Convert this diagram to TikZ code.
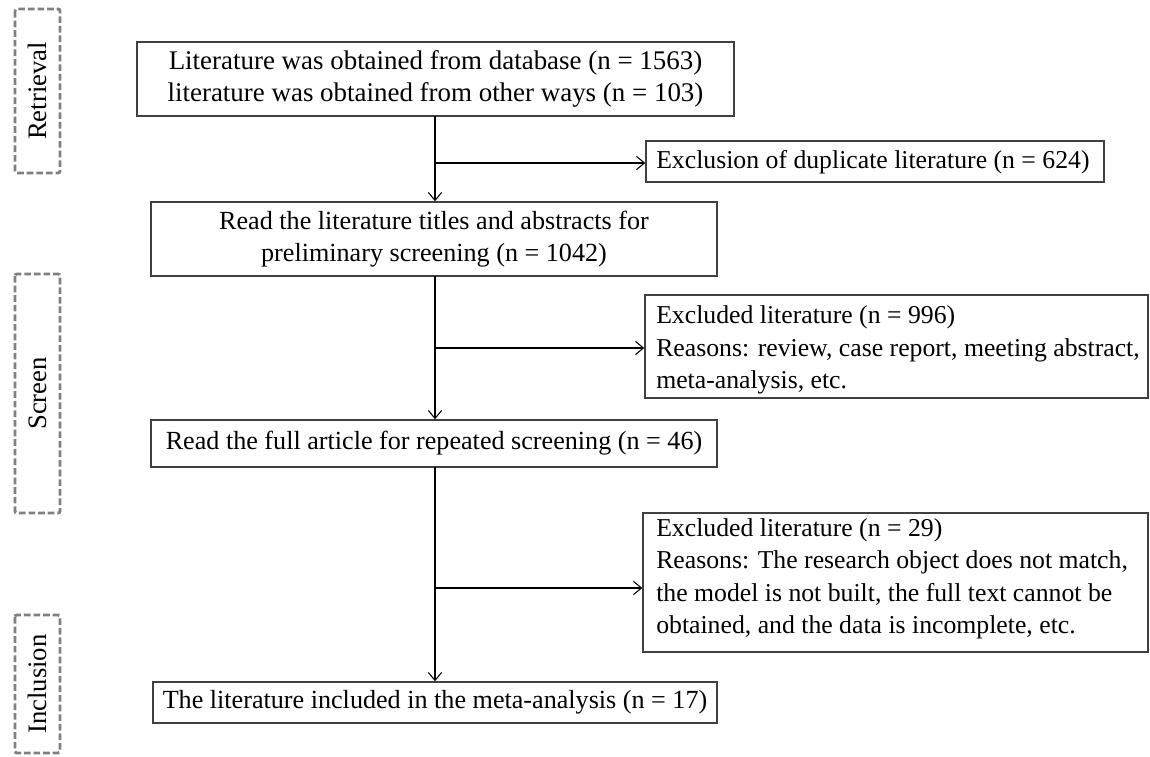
\documentclass[tikz,border=0pt]{standalone}
\usepackage{fontspec}
\setmainfont{Liberation Serif}
\usetikzlibrary{arrows.meta}
\begin{document}
\begin{tikzpicture}[x=0.75pt,y=-0.75pt,
  font=\fontsize{19.6}{24}\selectfont,
  mainbox/.style={draw=black!75,line width=1.1pt,align=center,inner sep=0pt},
  exbox/.style={draw=black!75,line width=1.1pt,inner sep=0pt},
  extext/.style={anchor=west,align=left,inner sep=0pt,font=\fontsize{19.3}{24.3}\selectfont},
  sidebox/.style={draw=black!50,line width=2.2pt,dash pattern=on 5pt off 2.2pt,rounded corners=1.5pt,rotate=90,inner sep=0pt,font=\fontsize{20}{24}\selectfont},
  arr/.style={-{Straight Barb[length=6pt,width=10pt]},line width=0.8pt,black}]
\useasboundingbox (0,0) rectangle (1150,757);

\node[mainbox,minimum width=447.75pt,minimum height=55.5pt,font=\fontsize{20.2}{24}\selectfont] (b1) at (435.5,79)
  {Literature was obtained from database (n = 1563)\\literature was obtained from other ways (n = 103)};
\node[mainbox,minimum width=424.5pt,minimum height=55.5pt] (b2) at (434,239)
  {Read the literature titles and abstracts for\\preliminary screening (n = 1042)};
\node[mainbox,minimum width=424.5pt,minimum height=35.25pt] (b3) at (434,443.5)
  {Read the full article for repeated screening (n = 46)};
\node[mainbox,minimum width=423pt,minimum height=30.75pt] (b4) at (435,702.5)
  {The literature included in the meta-analysis (n = 17)};

\node[exbox,minimum width=343.5pt,minimum height=30.75pt] (e1) at (875,161.5) {};
\node[extext] (e1t) at (656,162) {Exclusion of duplicate literature (n = 624)};
\node[exbox,minimum width=377.25pt,minimum height=77.25pt] (e2) at (896.5,346.5) {};
\node[extext] (e2t) at (656,350)
  {Excluded literature (n = 996)\\Reasons: review, case report, meeting abstract,\\meta-analysis, etc.};
\node[exbox,minimum width=378.75pt,minimum height=104.25pt] (e3) at (895.5,582.5) {};
\node[extext] (e3t) at (656,579)
  {Excluded literature (n = 29)\\Reasons: The research object does not match,\\the model is not built, the full text cannot be\\obtained, and the data is incomplete, etc.};

\node[sidebox,minimum width=123pt,minimum height=33.75pt] (s1) at (37.5,91) {Retrieval};
\node[sidebox,minimum width=179.25pt,minimum height=33.75pt] (s2) at (37.5,393.5) {Screen};
\node[sidebox,minimum width=103.5pt,minimum height=33.75pt] (s3) at (37.5,684) {Inclusion};

\coordinate (t1) at (435,116);
\coordinate (t2) at (435,276);
\coordinate (t3) at (435,467);
\coordinate (a1) at (435,163);
\coordinate (a2) at (435,348);
\coordinate (a3) at (435,588);

\draw[arr] (t1) -- (t1 |- b2.north);
\draw[arr] (t2) -- (t2 |- b3.north);
\draw[arr] (t3) -- (t3 |- b4.north);
\draw[arr] (a1) -- (a1 -| e1.west);
\draw[arr] (a2) -- (a2 -| e2.west);
\draw[arr] (a3) -- (a3 -| e3.west);
\end{tikzpicture}
\end{document}
